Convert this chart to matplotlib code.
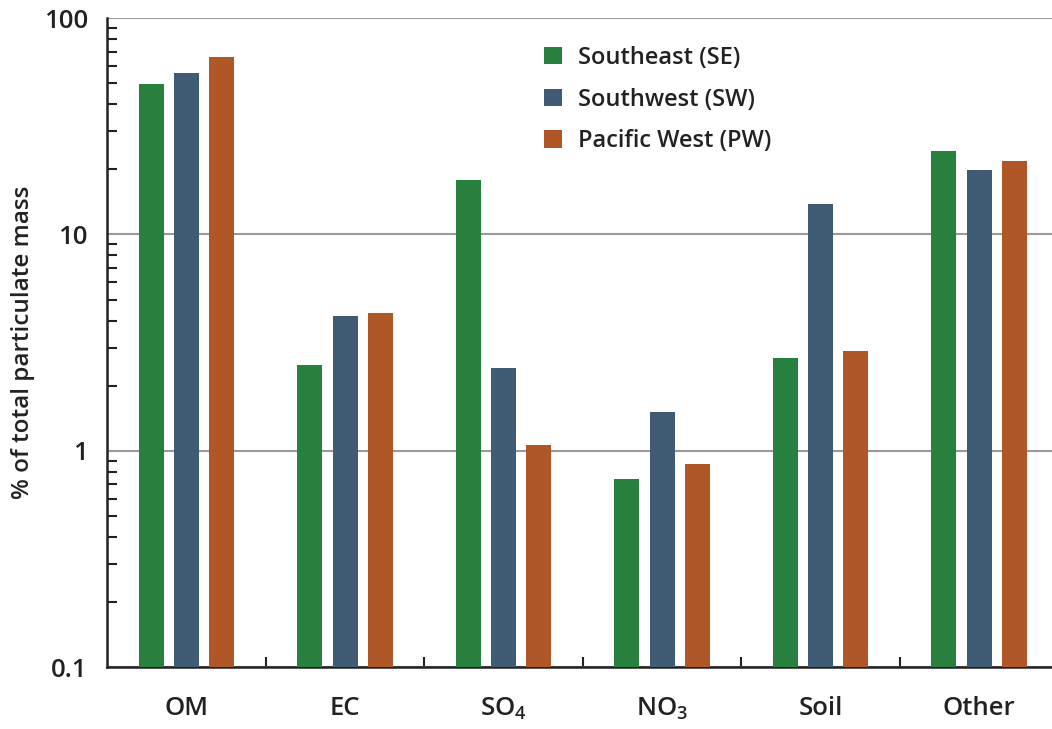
import matplotlib
matplotlib.use("Agg")
import matplotlib.pyplot as plt
import numpy as np
from matplotlib.ticker import LogLocator, NullFormatter, FixedLocator

plt.rcParams['font.family'] = ['Open Sans', 'DejaVu Sans']
plt.rcParams['font.weight'] = 'semibold'
plt.rcParams['axes.labelweight'] = 'semibold'
plt.rcParams['mathtext.default'] = 'regular'

categories = ["OM", "EC", r"SO$_4$", r"NO$_3$", "Soil", "Other"]
series_names = ["Southeast (SE)", "Southwest (SW)", "Pacific West (PW)"]
southeast = [49.5, 2.5, 17.8, 0.74, 2.68, 24.3]
southwest = [56.0, 4.2, 2.42, 1.51, 13.8, 19.8]
pacific_west = [66.0, 4.35, 1.06, 0.87, 2.9, 21.8]
colors = ["#28803f", "#405c74", "#b05727"]

fig = plt.figure(figsize=(10.52, 7.29), dpi=100)
ax = fig.add_axes([0.102, 0.085, 0.898, 0.89])

x = np.arange(len(categories))
width = 0.157
offset = 0.223
for i, (vals, name, c) in enumerate(zip([southeast, southwest, pacific_west], series_names, colors)):
    ax.bar(x + (i - 1) * offset, vals, width, color=c, label=name, zorder=3)

ax.set_yscale('log')
ax.set_ylim(0.1, 100)
ax.set_xlim(-0.5, 5.46)

ax.yaxis.set_major_locator(FixedLocator([0.1, 1, 10, 100]))
ax.set_yticklabels(["0.1", "1", "10", "100"])
ax.yaxis.set_minor_locator(LogLocator(base=10, subs=np.arange(2, 10)))
ax.yaxis.set_minor_formatter(NullFormatter())
ax.tick_params(axis='y', which='major', length=0, labelsize=18.5, pad=14, colors='#222222')
ax.tick_params(axis='y', which='minor', direction='in', length=7, width=1.5, color='#222222')
ax.grid(axis='y', which='major', color='#9a9a9a', linewidth=1.5, zorder=0)

ax.set_xticks(x)
ax.set_xticklabels(categories)
ax.tick_params(axis='x', which='major', length=0, labelsize=18.5, pad=21, colors='#222222')
ax.set_xticks(x[:-1] + 0.5, minor=True)
ax.tick_params(axis='x', which='minor', direction='in', length=7, width=1.5, color='#222222')

for s in ['top', 'right']:
    ax.spines[s].set_visible(False)
for s in ['left', 'bottom']:
    ax.spines[s].set_linewidth(1.8)
    ax.spines[s].set_color('#222222')

ax.set_ylabel("% of total particulate mass", fontsize=17.5, fontweight='semibold',
              color='#222222', labelpad=6)

leg = ax.legend(loc='upper left', bbox_to_anchor=(0.44, 0.99), frameon=False,
                fontsize=17, handlelength=0.75, handleheight=0.75, handletextpad=0.7,
                labelspacing=0.75)
for t in leg.get_texts():
    t.set_color('#222222')

fig.savefig("out.png", dpi=100)
